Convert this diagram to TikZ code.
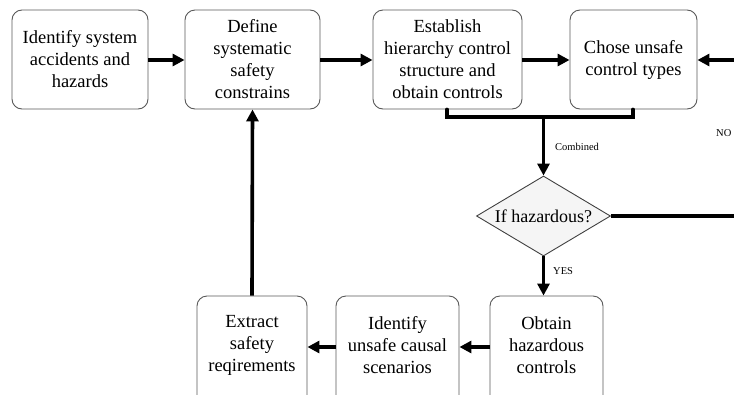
\documentclass[tikz,border=0pt]{standalone}
\usepackage{fontspec}
\setmainfont{Liberation Serif}
\usetikzlibrary{arrows.meta,shapes.geometric}
\begin{document}
\begin{tikzpicture}[x=1pt,y=-1pt,
  boxtext/.style={align=center,font=\fontsize{18.5}{22}\selectfont},
  stepbox/.style={draw=black!65,line width=0.9pt,rounded corners=10pt,fill=white,
    boxtext,inner sep=0pt},
  flow/.style={line width=3.6pt,-{Triangle[length=12pt,width=12pt]}},
  bar/.style={line width=3.6pt},
  lbl/.style={font=\fontsize{10.5}{11}\selectfont,inner sep=0pt,anchor=west}]
\useasboundingbox (0,0) rectangle (734,394);
\begin{scope}
\clip (0,0) rectangle (734,394);
% top row
\node[stepbox,minimum width=136pt,minimum height=99pt] (s1) at (80,59.5) {Identify system\\accidents and\\hazards};
\node[stepbox,minimum width=135pt,minimum height=99pt] (s2) at (252.5,59.5) {Define\\systematic\\safety\\constrains};
\node[stepbox,minimum width=149pt,minimum height=99pt] (s3) at (447.5,59.5) {Establish\\hierarchy control\\structure and\\obtain controls};
\node[stepbox,minimum width=127pt,minimum height=99pt] (s4) at (633.5,59.5) {Chose unsafe\\control types};
% bottom row (runs past the lower edge)
\node[stepbox,minimum width=113pt,minimum height=120pt] (b1) at (546.5,356) {};
\node[stepbox,minimum width=123pt,minimum height=120pt] (b2) at (397.5,356) {};
\node[stepbox,minimum width=110pt,minimum height=120pt] (b3) at (252,356) {};
\node[boxtext] (t1) at (546.5,345.5) {Obtain\\hazardous\\controls};
\node[boxtext] (t2) at (397.5,345.5) {Identify\\unsafe causal\\scenarios};
\node[boxtext] (t3) at (252,345.5) {Extract\\safety\\reqirements};
% decision
\node[diamond,draw=black!75,line width=0.9pt,fill=black!4,minimum width=134pt,minimum height=80pt,inner sep=0pt,aspect=1.675] (d) at (543.5,216) {};
\node[font=\fontsize{18}{20}\selectfont] (dt) at (543.5,216) {If hazardous?};
% connectors
\coordinate (j3) at (447,117);
\coordinate (j4) at (633,117);
\coordinate (jm) at (543.5,117);
\coordinate (eR) at (760,216);
\coordinate (eIn) at (760,60);
\draw[flow] (s1.east |- 0,60) -- (s2.west |- 0,60);
\draw[flow] (s2.east |- 0,60) -- (s3.west |- 0,60);
\draw[flow] (s3.east |- 0,60) -- (s4.west |- 0,60);
\draw[flow] (eIn) -- (s4.east |- 0,60);
\draw[bar,line cap=round,line join=miter] (s3.south -| j3) -- (j3) -- (j4) -- (s4.south -| j4);
\draw[flow] (jm) -- (d.north);
\draw[bar] (d.east) -- (eR);
\draw[flow] (d.south) -- (d.south |- b1.north);
\draw[flow] (b1.west |- 0,347) -- (b2.east |- 0,347);
\draw[flow] (b2.west |- 0,347) -- (b3.east |- 0,347);
\draw[flow] (b3.north) -- (s2.south);
% labels
\node[lbl] (lc) at (555,147) {Combined};
\node[lbl] (ly) at (553,271) {YES};
\node[lbl] (ln) at (716,133) {NO};
\end{scope}
\end{tikzpicture}
\end{document}
